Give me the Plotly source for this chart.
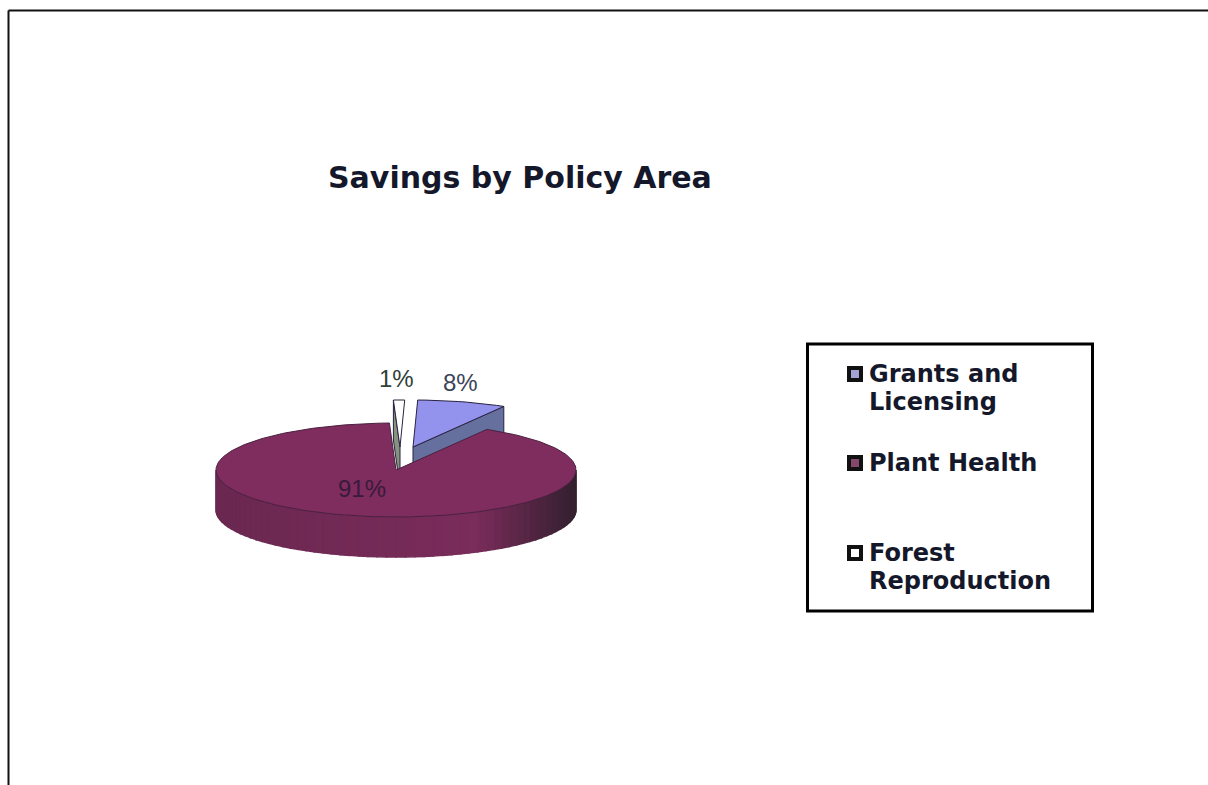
import numpy as np
import plotly.graph_objects as go

# Chart data
categories = ["Grants and<br>Licensing", "Plant Health", "Forest<br>Reproduction"]
values = [8, 91, 1]
title_text = "Savings by Policy Area"

# Page is laid out in pixel units on hidden axes
W, H = 1208, 785
CX, CY, RX, RY, DEPTH = 396, 470, 180, 47, 40
ROTATION = 1.5
SHIFT = {0: (17, -23), 1: (0, 0), 2: (4, -23)}
TOP = {0: "#9393EE", 1: "#7F2C5E", 2: "#FFFFFF"}
WALL = {0: "#66709F", 2: "#86937F"}
EDGE = "#2A2140"
SWATCH = ["#A4A4D2", "#84496A", "#FFFFFF"]
KEY_X, KEY_TEXT_X, KEY_ROWS, KEY_LINE = 855, 867, [374, 463, 553], 28


def point(theta, dx=0, dy=0, drop=0):
    t = np.radians(theta)
    return CX + dx + RX * np.sin(t), CY + dy - RY * np.cos(t) + drop


def polygon(fig, xs, ys, fill, line=EDGE, width=1):
    fig.add_trace(go.Scatter(
        x=list(xs) + [xs[0]], y=list(ys) + [ys[0]], mode="lines", fill="toself",
        fillcolor=fill, line=dict(color=line, width=width), hoverinfo="skip", showlegend=False))


def mix(c1, c2, f):
    a = [int(c1[i:i + 2], 16) for i in (1, 3, 5)]
    b = [int(c2[i:i + 2], 16) for i in (1, 3, 5)]
    return "#" + "".join(f"{int(round(p + (q - p) * f)):02X}" for p, q in zip(a, b))


# Slice angles, clockwise from twelve o'clock, derived from the values
fractions = [v / sum(values) * 360 for v in values]
grants_span = (ROTATION, ROTATION + fractions[0])
forest_span = (ROTATION - fractions[2], ROTATION)
plant_span = (grants_span[1], forest_span[0] + 360)

fig = go.Figure()

# Grants slice, pulled out towards the back
sx, sy = SHIFT[0]
ax, ay = CX + sx, CY + sy
ex, ey = point(grants_span[1], sx, sy)
polygon(fig, [ax, ex, ex, ax], [ay, ey, ey + DEPTH, ay + DEPTH], WALL[0])
px, py = point(np.linspace(*grants_span, 12), sx, sy)
polygon(fig, [ax, *px], [ay, *py], TOP[0])

# Forest slice, pulled out towards the back
sx, sy = SHIFT[2]
ax, ay = CX + sx, CY + sy
lx, ly = point(forest_span[0], sx, sy)
polygon(fig, [lx, ax, ax, lx], [ly, ay, ay + DEPTH, ly + DEPTH], WALL[2])
px, py = point(np.linspace(*forest_span, 4), sx, sy)
polygon(fig, [ax, *px], [ay, *py], TOP[2])

# Plant Health outer wall, shaded in narrow strips from left to right
strips = np.linspace(90, 270, 61)
for a, b in zip(strips[:-1], strips[1:]):
    arc = np.linspace(a, b, 3)
    tx, ty = point(arc)
    bx, by = point(arc, drop=DEPTH)
    f = (tx.mean() - (CX - RX)) / (2 * RX)
    if f < 0.72:
        colour = mix("#6A2850", "#7A2C5A", f / 0.72)
    else:
        colour = mix("#7A2C5A", "#33202E", (f - 0.72) / 0.28)
    polygon(fig, [*tx, *bx[::-1]], [*ty, *by[::-1]], colour, line=colour, width=1.5)

# Plant Health top face
px, py = point(np.linspace(*plant_span, 240))
polygon(fig, [CX, *px], [CY, *py], TOP[1], line="#4A2140")

# Key swatches and their wrapped labels
for name, colour, row in zip(categories, SWATCH, KEY_ROWS):
    fig.add_trace(go.Scatter(
        x=[KEY_X], y=[row], mode="markers", name=name.replace("<br>", " "), hoverinfo="name",
        showlegend=False,
        marker=dict(symbol="square", size=12, color=colour, line=dict(color="#111111", width=4))))
    for i, text in enumerate(name.split("<br>")):
        fig.add_annotation(x=KEY_TEXT_X, y=row + i * KEY_LINE, text=text, xanchor="left",
                           showarrow=False,
                           font=dict(family="DejaVu Sans", size=24, color="#14182A", weight="bold"))

# Percentage labels
label_font = dict(family="Liberation Sans", size=24)
for value, (tx, ty), colour in zip(values, [(460, 382), (362, 488), (396, 378)],
                                   ["#3C4458", "#3A1A3C", "#30403A"]):
    fig.add_annotation(x=tx, y=ty, text=f"{value}%", showarrow=False,
                       font=dict(color=colour, **label_font))

fig.add_annotation(x=519.5, y=177, text=title_text, showarrow=False,
                   font=dict(family="DejaVu Sans", size=30, color="#14182A", weight="bold"))

frame = dict(color="#111111", width=2)
shapes = [
    dict(type="line", x0=8.5, x1=8.5, y0=10.5, y1=H + 5, line=frame),
    dict(type="line", x0=8.5, x1=W + 5, y0=10.5, y1=10.5, line=frame),
    dict(type="rect", x0=807.5, x1=1092.5, y0=344, y1=611, line=dict(color="#000000", width=3),
         fillcolor="#FFFFFF", layer="below"),
]

fig.update_layout(
    width=W, height=H, margin=dict(l=0, r=0, t=0, b=0), autosize=False,
    paper_bgcolor="#FFFFFF", plot_bgcolor="#FFFFFF",
    xaxis=dict(range=[0, W], visible=False, fixedrange=True),
    yaxis=dict(range=[H, 0], visible=False, fixedrange=True),
    shapes=shapes,
    showlegend=False,
)

fig.write_html("out.html", config={"displayModeBar": False})
